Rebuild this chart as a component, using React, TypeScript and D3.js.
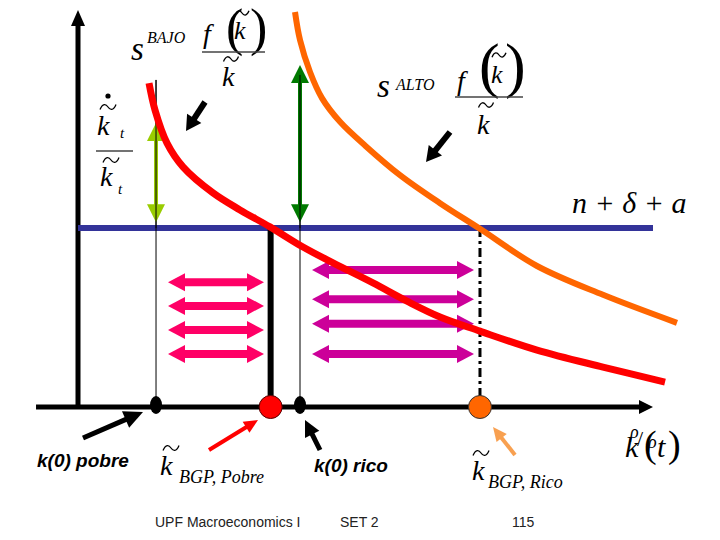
import React from 'react';
import * as d3 from 'd3';

const W = 720;
const H = 540;

// Diagram data (k = capital per effective worker, g = growth rate)
const redK = [1.235, 1.339, 1.548, 1.826, 2.348, 2.817, 3.339, 3.913, 4.435, 5.13, 5.722, 6.296, 6.991, 7.983, 9.13, 10.209];
const redG = [0.82, 0.752, 0.668, 0.608, 0.542, 0.499, 0.456, 0.405, 0.365, 0.314, 0.268, 0.228, 0.192, 0.144, 0.101, 0.063];
const orangeK = [3.774, 3.861, 4.035, 4.243, 4.557, 5.0, 5.6, 6.296, 6.991, 7.983, 9.13, 10.417];
const orangeG = [1.0, 0.929, 0.848, 0.782, 0.722, 0.661, 0.587, 0.516, 0.451, 0.357, 0.284, 0.213];
const breakEven = 0.453; // n + δ + a
const k0Pobre = 1.357;
const kBGPPobre = 3.35;
const k0Rico = 3.861;
const kBGPRico = 6.991;
const thinLineTop = 0.828;
const lightGreenRange = [0.468, 0.719];
const darkGreenRange = [0.468, 0.866];
const leftArrowRange = [1.565, 3.235];
const leftArrowG = [0.316, 0.256, 0.195, 0.134];
const rightArrowRange = [4.07, 6.887];
const rightArrowG = [0.347, 0.273, 0.211, 0.134];

const x = d3.scaleLinear().domain([0, 10]).range([78, 653]);
const y = d3.scaleLinear().domain([0, 1]).range([407, 12]);

const lineGen = d3
  .line<[number, number]>()
  .x((d) => x(d[0]))
  .y((d) => y(d[1]))
  .curve(d3.curveCatmullRom.alpha(0.5));

const redPath = lineGen(redK.map((k, i) => [k, redG[i]] as [number, number])) || '';
const orangePath = lineGen(orangeK.map((k, i) => [k, orangeG[i]] as [number, number])) || '';

type ArrowProps = {
  x1: number; y1: number; x2: number; y2: number;
  color: string; sw: number; hl: number; hw: number; double?: boolean;
};

function Arrow({ x1, y1, x2, y2, color, sw, hl, hw, double }: ArrowProps) {
  const dx = x2 - x1;
  const dy = y2 - y1;
  const len = Math.hypot(dx, dy);
  const ux = dx / len;
  const uy = dy / len;
  const px = -uy;
  const py = ux;
  const head = (tx: number, ty: number, dir: number) => {
    const bx = tx - dir * ux * hl;
    const by = ty - dir * uy * hl;
    return `${tx},${ty} ${bx + (px * hw) / 2},${by + (py * hw) / 2} ${bx - (px * hw) / 2},${by - (py * hw) / 2}`;
  };
  const sx = double ? x1 + ux * (hl - 1) : x1;
  const sy = double ? y1 + uy * (hl - 1) : y1;
  const ex = x2 - ux * (hl - 1);
  const ey = y2 - uy * (hl - 1);
  return (
    <g>
      <line x1={sx} y1={sy} x2={ex} y2={ey} stroke={color} strokeWidth={sw} />
      <polygon points={head(x2, y2, 1)} fill={color} />
      {double && <polygon points={head(x1, y1, -1)} fill={color} />}
    </g>
  );
}

function Tilde({ cx, cy, w }: { cx: number; cy: number; w: number }) {
  const h = w * 0.16;
  const d = `M${cx - w / 2},${cy + h} C${cx - w / 3},${cy - h * 1.6} ${cx - w / 8},${cy - h * 1.2} ${cx},${cy} S${cx + w / 3},${cy + h * 1.6} ${cx + w / 2},${cy - h}`;
  return <path d={d} fill="none" stroke="#000" strokeWidth={1.3} />;
}

const serif = '"Liberation Serif", "Times New Roman", serif';
const sans = '"Liberation Sans", Arial, sans-serif';

function T({ x: tx, y: ty, size, children, italic = true, weight = 'normal', family = serif, fill = '#000' }: any) {
  return (
    <text x={tx} y={ty} fontSize={size} fontStyle={italic ? 'italic' : 'normal'} fontWeight={weight} fontFamily={family} fill={fill}>
      {children}
    </text>
  );
}

export default function App() {
  const axisY = y(0);
  const axisX = x(0);
  return (
    <svg width={W} height={H} style={{ position: 'absolute', left: 0, top: 0, background: '#fff' }}>
      <rect width={W} height={H} fill="#fff" />

      {/* axes */}
      <line x1={axisX} y1={axisY + 1} x2={axisX} y2={24} stroke="#000" strokeWidth={5} />
      <polygon points={`${axisX},10 ${axisX - 7},26 ${axisX + 7},26`} fill="#000" />
      <line x1={x(-0.73)} y1={axisY} x2={641} y2={axisY} stroke="#000" strokeWidth={5} />
      <polygon points={`653,${axisY} 639,${axisY - 7} 639,${axisY + 7}`} fill="#000" />

      {/* break-even line */}
      <line x1={axisX} y1={y(breakEven)} x2={x(10)} y2={y(breakEven)} stroke="#333399" strokeWidth={6} />

      {/* thin vertical lines at initial k */}
      <line x1={x(k0Pobre)} y1={y(thinLineTop)} x2={x(k0Pobre)} y2={axisY} stroke="#000" strokeWidth={1} />
      <line x1={x(k0Rico)} y1={y(thinLineTop)} x2={x(k0Rico)} y2={axisY} stroke="#000" strokeWidth={1} />

      {/* steady state markers */}
      <line x1={x(kBGPPobre)} y1={y(breakEven) - 2} x2={x(kBGPPobre)} y2={axisY} stroke="#000" strokeWidth={6} />
      <line x1={x(kBGPRico)} y1={y(breakEven)} x2={x(kBGPRico)} y2={axisY - 10} stroke="#000" strokeWidth={3} strokeDasharray="9 4 3 4" />

      {/* horizontal arrows */}
      {leftArrowG.map((g, i) => (
        <Arrow key={'l' + i} x1={x(leftArrowRange[0])} y1={y(g)} x2={x(leftArrowRange[1])} y2={y(g)} color="#FF0066" sw={8} hl={17} hw={18} double />
      ))}
      {rightArrowG.map((g, i) => (
        <Arrow key={'r' + i} x1={x(rightArrowRange[0])} y1={y(g)} x2={x(rightArrowRange[1])} y2={y(g)} color="#CC0099" sw={8} hl={17} hw={18} double />
      ))}

      {/* vertical growth arrows */}
      <Arrow x1={x(k0Pobre)} y1={y(lightGreenRange[0])} x2={x(k0Pobre)} y2={y(lightGreenRange[1])} color="#99CC00" sw={4} hl={18} hw={18} double />
      <Arrow x1={x(k0Rico)} y1={y(darkGreenRange[0])} x2={x(k0Rico)} y2={y(darkGreenRange[1])} color="#007A00" sw={4} hl={18} hw={18} double />
      <line x1={x(k0Pobre)} y1={y(thinLineTop)} x2={x(k0Pobre)} y2={y(breakEven)} stroke="#000" strokeWidth={1} />
      <line x1={x(k0Rico)} y1={y(darkGreenRange[1]) + 10} x2={x(k0Rico)} y2={y(breakEven)} stroke="#000" strokeWidth={1} />

      {/* curves */}
      <path d={orangePath} fill="none" stroke="#FF6600" strokeWidth={6} />
      <path d={redPath} fill="none" stroke="#FF0000" strokeWidth={7} />

      {/* axis dots */}
      <ellipse cx={x(k0Pobre)} cy={axisY - 2} rx={6} ry={9} fill="#000" />
      <ellipse cx={x(k0Rico)} cy={axisY - 2} rx={6} ry={9} fill="#000" />
      <circle cx={x(kBGPPobre)} cy={axisY} r={11.5} fill="#FF0000" stroke="#500" strokeWidth={1} />
      <circle cx={x(kBGPRico)} cy={axisY} r={11.5} fill="#FF6600" stroke="#333" strokeWidth={1} />

      {/* pointer arrows */}
      <Arrow x1={205} y1={102} x2={186} y2={131} color="#000" sw={6} hl={15} hw={17} />
      <Arrow x1={450} y1={132} x2={426} y2={162} color="#000" sw={6} hl={15} hw={17} />
      <Arrow x1={83} y1={438} x2={143} y2={412} color="#000" sw={5} hl={19} hw={18} />
      <Arrow x1={320} y1={450} x2={305} y2={420} color="#000" sw={5} hl={16} hw={16} />
      <Arrow x1={209} y1={450} x2={258} y2={420} color="#FF0000" sw={4} hl={14} hw={13} />
      <Arrow x1={515} y1={455} x2={493} y2={427} color="#F8A050" sw={4} hl={14} hw={13} />

      {/* y-axis label: dot k_t / k_t */}
      <circle cx={108} cy={96} r={2.6} fill="#000" />
      <Tilde cx={108} cy={107} w={16} />
      <T x={97} y={135} size={28}>k</T>
      <T x={120} y={138} size={15}>t</T>
      <line x1={96} y1={151} x2={133} y2={151} stroke="#444" strokeWidth={1.5} />
      <Tilde cx={111} cy={160} w={16} />
      <T x={100} y={186} size={28}>k</T>
      <T x={118} y={194} size={15}>t</T>

      {/* s^BAJO f(k)/k */}
      <T x={131} y={60} size={33}>s</T>
      <T x={147} y={43} size={16}>BAJO</T>
      <T x={203} y={43} size={28}>f</T>
      <T x={226} y={45} size={52} italic={false}>(</T>
      <T x={234} y={39} size={26}>k</T>
      <Tilde cx={242} cy={13} w={14} />
      <T x={250} y={45} size={52} italic={false}>)</T>
      <line x1={202} y1={52} x2={265} y2={52} stroke="#444" strokeWidth={1.5} />
      <Tilde cx={231} cy={59} w={15} />
      <T x={222} y={86} size={28}>k</T>

      {/* s^ALTO f(k)/k */}
      <T x={377} y={97} size={33}>s</T>
      <T x={396} y={90} size={16}>ALTO</T>
      <T x={457} y={90} size={28}>f</T>
      <T x={479} y={86} size={62} italic={false}>(</T>
      <T x={491} y={83} size={26}>k</T>
      <Tilde cx={499} cy={55} w={14} />
      <T x={505} y={86} size={62} italic={false}>)</T>
      <line x1={455} y1={97} x2={523} y2={97} stroke="#444" strokeWidth={1.5} />
      <Tilde cx={486} cy={105} w={15} />
      <T x={477} y={134} size={28}>k</T>

      {/* n + δ + a */}
      <T x={572} y={213} size={30}>n + δ + a</T>

      {/* bottom labels */}
      <T x={37} y={467} size={19} weight="bold" family={sans}>k(0) pobre</T>
      <T x={314} y={472} size={19} weight="bold" family={sans}>k(0) rico</T>

      <Tilde cx={171} cy={448} w={16} />
      <T x={160} y={475} size={28}>k</T>
      <T x={179} y={483} size={18}>BGP, Pobre</T>

      <Tilde cx={481} cy={453} w={16} />
      <T x={472} y={480} size={28}>k</T>
      <T x={488} y={488} size={18}>BGP, Rico</T>

      {/* x-axis label k(t) */}
      <T x={625} y={457} size={30}>k</T>
      <T x={630} y={438} size={18}>ρ</T>
      <T x={637} y={446} size={22} italic={false}>/</T>
      <T x={644} y={457} size={38} italic={false}>(</T>
      <T x={648} y={448} size={18}>ρ</T>
      <T x={657} y={457} size={30}>t</T>
      <T x={668} y={457} size={38} italic={false}>)</T>

      {/* footer */}
      <T x={155} y={527} size={14} italic={false} family={sans} fill="#222">UPF Macroeconomics I</T>
      <T x={340} y={527} size={14} italic={false} family={sans} fill="#222">SET 2</T>
      <T x={512} y={527} size={14} italic={false} family={sans} fill="#222">115</T>
    </svg>
  );
}
